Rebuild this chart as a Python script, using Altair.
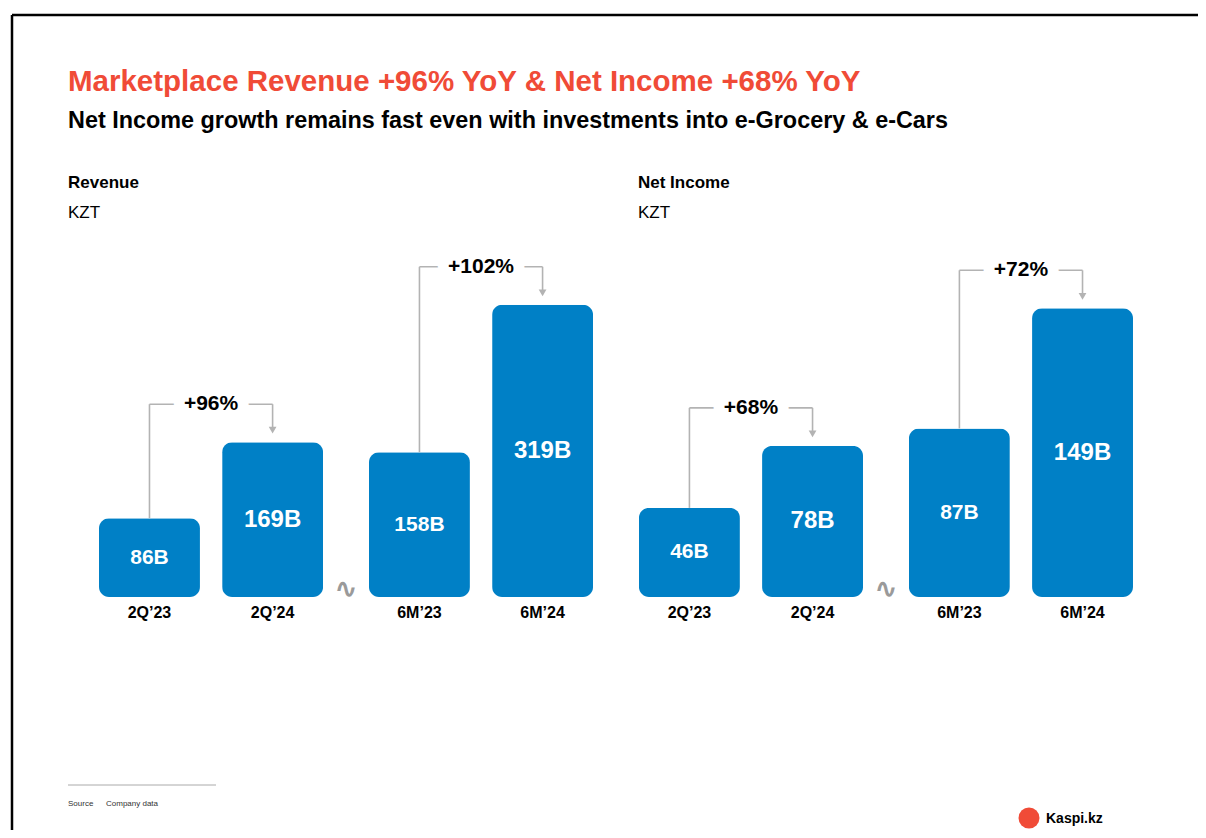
import altair as alt
import pandas as pd

TITLE = "Marketplace Revenue +96% YoY & Net Income +68% YoY"
SUBTITLE = "Net Income growth remains fast even with investments into e-Grocery & e-Cars"
PANELS = ["Revenue", "Net Income"]
UNIT = "KZT"
PERIODS = ["2Q", "2Q", "6M", "6M"]
YEARS = ["’23", "’24", "’23", "’24"]
LABELS = ["2Q’23", "2Q’24", "6M’23", "6M’24"]
REVENUE = [86, 169, 158, 319]
NET_INCOME = [46, 78, 87, 149]
REV_GROWTH = ["+96%", "+102%"]
NI_GROWTH = ["+68%", "+72%"]
SOURCE = "Source"
SOURCE_TEXT = "Company data"
BRAND = "Kaspi.kz"

FONT = "Liberation Sans"
BLUE = "#0080C6"
GRAY = "#B3B3B3"
RED = "#F04B37"

GROUPS = [f"{p}|{q}" for p in PANELS for q in ["2Q", "6M"]]
XSCALE = alt.Scale(domain=GROUPS, range=[91, 1125], paddingInner=0.17, paddingOuter=0)
OFFSCALE = alt.Scale(domain=["’23", "’24"], paddingInner=0.18, paddingOuter=0)


def frames(panel, values, growth):
    bars = pd.DataFrame({
        "group": [f"{panel}|{p}" for p in PERIODS],
        "year": YEARS,
        "label": LABELS,
        "value": values,
        "text": [f"{v}B" for v in values],
    })
    rows, hrows = [], []
    for i, q in enumerate(["2Q", "6M"]):
        v1, v2 = values[2 * i], values[2 * i + 1]
        top = max(v1, v2)
        g = f"{panel}|{q}"
        rows.append({"group": g, "yr1": "’23", "yr2": "’24", "v1": v1, "v2": v2,
                     "top": top, "pct": growth[i]})
        hrows.append({"group": g, "yr": "’23", "top": top})
        hrows.append({"group": g, "yr": "’24", "top": top})
    brk = pd.DataFrame({"group": [f"{panel}|2Q"], "year": ["’24"], "t": ["∿"]})
    return bars, pd.DataFrame(rows), pd.DataFrame(hrows), brk


def panel(panel_name, values, growth, ydomain):
    bars, conn, hline, brk = frames(panel_name, values, growth)
    ys = alt.Scale(domain=[0, ydomain], range=[589, 0], nice=False, zero=True)
    X = alt.X("group:N", scale=XSCALE, axis=None)
    b = alt.Chart(bars)
    bar = b.mark_bar(cornerRadius=10, color=BLUE).encode(
        x=X, xOffset=alt.XOffset("year:N", scale=OFFSCALE),
        y=alt.Y("value:Q", scale=ys, axis=None))
    vals = b.transform_calculate(mid="datum.value / 2").mark_text(
        font=FONT, fontWeight="bold", color="white", baseline="middle").encode(
        x=X, xOffset=alt.XOffset("year:N", scale=OFFSCALE),
        y=alt.Y("mid:Q", scale=ys, axis=None), text="text:N",
        size=alt.condition("datum.year == '’24'", alt.value(24), alt.value(21)))
    xl = b.mark_text(font=FONT, fontWeight="bold", fontSize=16, color="black",
                     baseline="middle").encode(
        x=X, xOffset=alt.XOffset("year:N", scale=OFFSCALE),
        y=alt.value(605), text="label:N")
    c = alt.Chart(conn)
    lv = c.mark_rule(color=GRAY, strokeWidth=1.6, y2Offset=-38).encode(
        x=X, xOffset=alt.XOffset("yr1:N", scale=OFFSCALE),
        y=alt.Y("v1:Q", scale=ys, axis=None), y2="top:Q")
    rv = c.mark_rule(color=GRAY, strokeWidth=1.6, yOffset=-38, y2Offset=-12).encode(
        x=X, xOffset=alt.XOffset("yr2:N", scale=OFFSCALE),
        y=alt.Y("top:Q", scale=ys, axis=None), y2="v2:Q")
    arrow = c.mark_point(shape="triangle-down", filled=True, size=60, color=GRAY,
                         opacity=1, yOffset=-12).encode(
        x=X, xOffset=alt.XOffset("yr2:N", scale=OFFSCALE),
        y=alt.Y("v2:Q", scale=ys, axis=None))
    hl = alt.Chart(hline).mark_line(color=GRAY, strokeWidth=1.6, yOffset=-38).encode(
        x=X, xOffset=alt.XOffset("yr:N", scale=OFFSCALE),
        y=alt.Y("top:Q", scale=ys, axis=None), detail="group:N")
    halo = c.mark_text(font=FONT, fontWeight="bold", fontSize=21, color="white",
                       stroke="white", strokeWidth=22, strokeJoin="round",
                       baseline="middle", dy=-38).encode(
        x=X, y=alt.Y("top:Q", scale=ys, axis=None), text="pct:N")
    pl = c.mark_text(font=FONT, fontWeight="bold", fontSize=21, color="black",
                     baseline="middle", dy=-38).encode(
        x=X, y=alt.Y("top:Q", scale=ys, axis=None), text="pct:N")
    br = alt.Chart(brk).mark_text(font="DejaVu Sans", fontSize=28, fontWeight="bold",
                                  color="#9A9A9A", baseline="middle", dx=73.5).encode(
        x=X, xOffset=alt.XOffset("year:N", scale=OFFSCALE),
        y=alt.value(582), text="t:N")
    return alt.layer(bar, vals, xl, lv, rv, hl, halo, pl, arrow, br)


def label(txt, x, y, size, weight="normal", color="black", align="left",
          baseline="alphabetic", font=FONT):
    return alt.Chart(pd.DataFrame({"t": [txt]})).mark_text(
        align=align, baseline=baseline, font=font, fontSize=size,
        fontWeight=weight, color=color).encode(
        x=alt.value(x), y=alt.value(y), text="t:N")


one = pd.DataFrame({"a": [0]})
border_h = alt.Chart(one).mark_rule(color="black", strokeWidth=2.5).encode(
    x=alt.value(4), x2=alt.value(1190), y=alt.value(7))
border_v = alt.Chart(one).mark_rule(color="black", strokeWidth=2.5).encode(
    x=alt.value(4), y=alt.value(7), y2=alt.value(830))
src_line = alt.Chart(one).mark_rule(color="#AAAAAA", strokeWidth=1).encode(
    x=alt.value(60), x2=alt.value(208), y=alt.value(777))
logo = alt.Chart(one).mark_point(shape="circle", filled=True, size=440, color=RED,
                                 opacity=1).encode(x=alt.value(1021), y=alt.value(810))

rev = panel(PANELS[0], REVENUE, REV_GROWTH, 643)
ni = panel(PANELS[1], NET_INCOME, NI_GROWTH, 304)

chart = alt.layer(
    border_h, border_v,
    label(TITLE, 60, 83, 29.5, "bold", RED),
    label(SUBTITLE, 60, 120, 23.4, "bold"),
    label(PANELS[0], 60, 180, 17, "bold"),
    label(UNIT, 60, 210, 17),
    label(PANELS[1], 630, 180, 17, "bold"),
    label(UNIT, 630, 210, 17),
    rev, ni,
    src_line,
    label(SOURCE, 60, 798, 8, color="#333333"),
    label(SOURCE_TEXT, 98, 798, 8, color="#333333"),
    logo,
    label(BRAND, 1038, 815, 14, "bold"),
).resolve_scale(y="independent").properties(
    width=1190, height=822, padding=0,
    autosize=alt.AutoSizeParams(type="none"),
).configure_view(stroke=None)

chart.save("out.html", embed_options={"renderer": "svg", "actions": False})
